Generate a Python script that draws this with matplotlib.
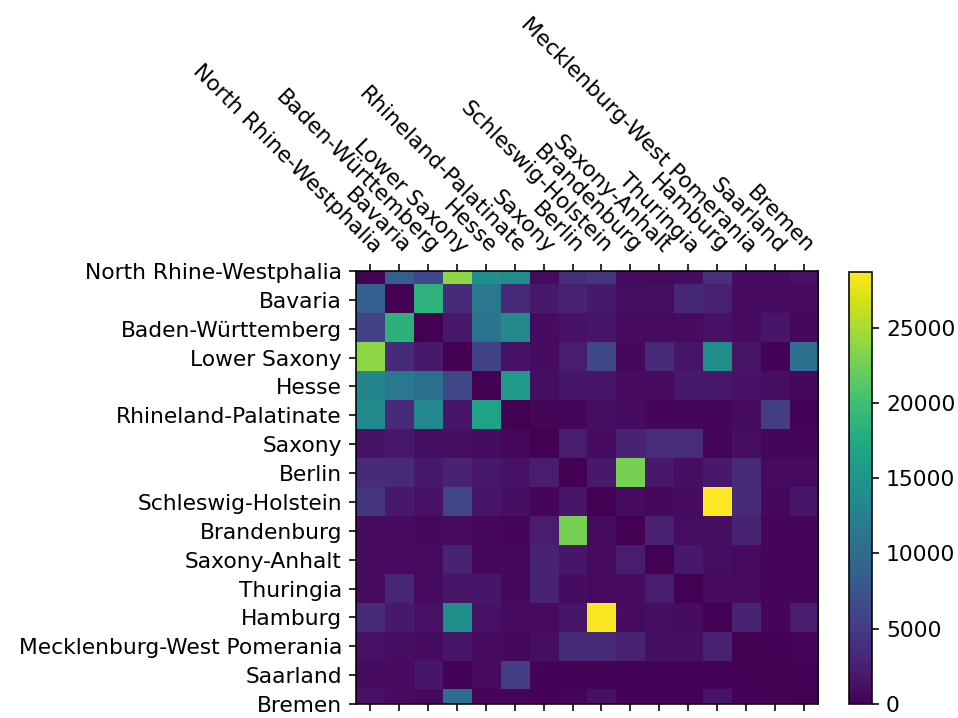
import numpy as np
import matplotlib
matplotlib.use("Agg")
import matplotlib.pyplot as plt

plt.rcParams["font.size"] = 10.9

states = ["North Rhine-Westphalia", "Bavaria", "Baden-Württemberg", "Lower Saxony",
          "Hesse", "Rhineland-Palatinate", "Saxony", "Berlin", "Schleswig-Holstein",
          "Brandenburg", "Saxony-Anhalt", "Thuringia", "Hamburg",
          "Mecklenburg-West Pomerania", "Saarland", "Bremen"]

# migration counts, row = from, column = to
flows = [
    [0, 8600, 6300, 23800, 14300, 14000, 800, 3700, 4500, 900, 700, 900, 4000, 1000, 800, 1300],
    [8600, 0, 18600, 3400, 11500, 3500, 2000, 2800, 2000, 1100, 1100, 3300, 2600, 1000, 1000, 800],
    [5700, 18400, 0, 2000, 11200, 13500, 800, 1400, 1700, 800, 800, 800, 1400, 800, 1700, 600],
    [23800, 3400, 2000, 0, 5700, 1400, 900, 2300, 6200, 600, 3400, 1600, 14300, 1500, 300, 10500],
    [13200, 11500, 10600, 6000, 0, 15500, 1100, 1700, 1700, 900, 900, 2000, 2000, 1400, 1100, 600],
    [13700, 3500, 13400, 1700, 16500, 0, 500, 500, 1100, 900, 500, 500, 500, 900, 5200, 300],
    [1400, 2000, 1100, 1100, 900, 600, 0, 2300, 1000, 2800, 3600, 3600, 500, 1100, 500, 500],
    [3400, 3400, 2000, 2800, 2000, 1400, 2300, 0, 2000, 22800, 2000, 1100, 2000, 3400, 800, 800],
    [4300, 2000, 1400, 6000, 1700, 1100, 400, 1700, 0, 900, 600, 900, 28700, 3400, 600, 1700],
    [800, 800, 600, 800, 600, 400, 2300, 22800, 800, 0, 2600, 1100, 1100, 2900, 500, 500],
    [800, 800, 800, 2800, 600, 600, 2800, 1700, 800, 2300, 0, 2000, 1100, 800, 500, 500],
    [800, 3100, 800, 1700, 1700, 600, 2800, 900, 800, 900, 2300, 0, 800, 800, 500, 500],
    [3400, 2000, 1400, 14300, 1400, 800, 800, 1700, 28400, 900, 1100, 900, 0, 2800, 500, 2300],
    [1400, 1100, 900, 1700, 800, 600, 1100, 3400, 3400, 2900, 1100, 1100, 2800, 0, 300, 500],
    [800, 800, 1700, 300, 800, 5200, 300, 300, 300, 300, 300, 300, 300, 300, 0, 300],
    [1400, 800, 600, 10300, 500, 500, 300, 500, 1300, 300, 300, 300, 1600, 300, 300, 0],
]

cbar_ticks = [0, 5000, 10000, 15000, 20000, 25000]

data = np.array(flows)

fig = plt.figure(figsize=(958 / 144, 718 / 144), dpi=144)
ax = fig.add_axes([0.3716, 0.0195, 0.4823, 0.6031])
cax = fig.add_axes([0.8862, 0.0195, 0.024, 0.6017])

im = ax.matshow(data, cmap="viridis")
ax.set_aspect("auto")
ax.set_xticks(range(len(states)))
ax.set_yticks(range(len(states)))
ax.set_xticklabels(states)
ax.set_yticklabels(states)
plt.setp(ax.get_xticklabels(), rotation=-45, ha="right", rotation_mode="anchor")
# top and bottom rows get cut in half like in the original
ax.set_ylim(15, 0)

cb = fig.colorbar(im, cax=cax, ticks=cbar_ticks)

fig.savefig("out.png", dpi=144)
